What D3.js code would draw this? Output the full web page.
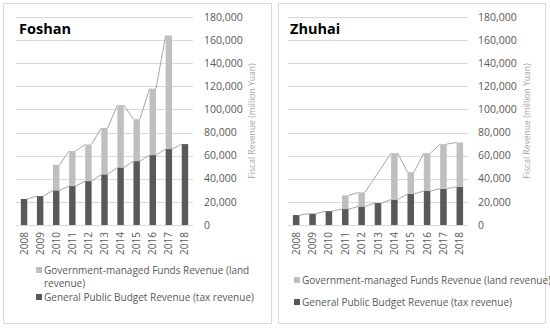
<!DOCTYPE html>
<html>
<head>
<meta charset="utf-8">
<script src="https://cdn.jsdelivr.net/npm/d3@7"></script>
<style>
  body { margin: 0; background: #fff; }
  text { font-family: "Open Sans", "Noto Sans", sans-serif; }
</style>
</head>
<body>
<div id="chart"></div>
<script>
// ---- data (million Yuan) ----
var years = ['2008','2009','2010','2011','2012','2013','2014','2015','2016','2017','2018'];
var foshanTax  = [22500, 25000, 30000, 33700, 38000, 43800, 49800, 55300, 60500, 65700, 70000];
var foshanLand = [null, null, 22000, 30300, 31700, 40200, 53900, 36300, 57500, 98300, null];
var zhuhaiTax  = [8600, 9800, 12000, 13800, 16000, 19000, 22000, 26800, 29400, 31400, 33000];
var zhuhaiLand = [null, null, null, 11800, 12200, null, 40200, 19000, 32800, 38600, 38400];
var yTicks = [0, 20000, 40000, 60000, 80000, 100000, 120000, 140000, 160000, 180000];
var legendLabels = ['Government-managed Funds Revenue (land revenue)', 'General Public Budget Revenue (tax revenue)'];
var axisTitle = 'Fiscal Revenue (million Yuan)';

var width = 550, height = 328;
var colTax = '#595959', colLand = '#bfbfbf', colLine = '#a6a6a6';

var svg = d3.select('#chart').append('svg')
  .attr('width', width).attr('height', height);

var fmt = d3.format(',');

// draws one panel; cfg holds the layout
function drawPanel(cfg) {
  var g = svg.append('g');

  // frame
  g.append('rect')
    .attr('x', cfg.box[0] + 0.5).attr('y', 3.5)
    .attr('width', cfg.box[1] - cfg.box[0]).attr('height', 320)
    .attr('fill', 'none').attr('stroke', '#d9d9d9');

  var x = d3.scaleBand().domain(years).range([cfg.x0, cfg.x1])
    .paddingInner(0.6).paddingOuter(0.3);
  var y = d3.scaleLinear().domain([0, 180000]).range([225, 17]);

  // gridlines
  g.selectAll('line.grid').data(yTicks).enter().append('line')
    .attr('class', 'grid')
    .attr('x1', cfg.x0).attr('x2', cfg.x1)
    .attr('y1', function(d) { return Math.round(y(d)) + 0.5; })
    .attr('y2', function(d) { return Math.round(y(d)) + 0.5; })
    .attr('stroke', '#d9d9d9').attr('stroke-width', 1);

  // y tick labels (right side)
  g.selectAll('text.ytick').data(yTicks).enter().append('text')
    .attr('class', 'ytick')
    .attr('x', cfg.tickX).attr('y', function(d) { return y(d); })
    .attr('dy', '0.35em')
    .attr('font-size', 10.5).attr('fill', '#595959')
    .text(fmt);

  // axis title
  g.append('text')
    .attr('transform', 'translate(' + cfg.titleX + ',121) rotate(-90)')
    .attr('text-anchor', 'middle').attr('dy', '0.35em')
    .attr('font-size', 8.6).attr('fill', '#a6a6a6')
    .text(axisTitle);

  var rows = years.map(function(yr, i) {
    return { year: yr, tax: cfg.tax[i], land: cfg.land[i] };
  });

  // series lines between bars
  var bw = x.bandwidth();
  function seriesPath(pts) {
    var segs = [];
    for (var i = 0; i < pts.length - 1; i++) {
      segs.push('M' + (x(pts[i].year) + bw) + ',' + y(pts[i].v) +
                'L' + x(pts[i + 1].year) + ',' + y(pts[i + 1].v));
    }
    return segs.join('');
  }
  var taxPts = rows.map(function(d) { return { year: d.year, v: d.tax }; });
  var landPts = rows.filter(function(d) { return d.land != null; })
    .map(function(d) { return { year: d.year, v: d.tax + d.land }; });

  g.append('path').attr('d', seriesPath(taxPts))
    .attr('fill', 'none').attr('stroke', colLine).attr('stroke-width', 1);
  g.append('path').attr('d', seriesPath(landPts))
    .attr('fill', 'none').attr('stroke', colLine).attr('stroke-width', 1);

  // bars
  g.selectAll('rect.tax').data(rows).enter().append('rect')
    .attr('class', 'tax')
    .attr('x', function(d) { return x(d.year); })
    .attr('width', bw)
    .attr('y', function(d) { return y(d.tax); })
    .attr('height', function(d) { return y(0) - y(d.tax); })
    .attr('fill', colTax);

  g.selectAll('rect.land').data(rows.filter(function(d) { return d.land != null; }))
    .enter().append('rect')
    .attr('class', 'land')
    .attr('x', function(d) { return x(d.year); })
    .attr('width', bw)
    .attr('y', function(d) { return y(d.tax + d.land); })
    .attr('height', function(d) { return y(d.tax) - y(d.tax + d.land); })
    .attr('fill', colLand);

  // year labels, rotated
  g.selectAll('text.xtick').data(years).enter().append('text')
    .attr('class', 'xtick')
    .attr('transform', function(d) {
      return 'translate(' + (x(d) + bw / 2) + ',232) rotate(-90)';
    })
    .attr('text-anchor', 'end').attr('dy', '0.35em')
    .attr('font-size', 10).attr('fill', '#595959')
    .text(function(d) { return d; });

  // city title
  g.append('text')
    .attr('x', cfg.nameX).attr('y', 34)
    .attr('font-size', 14.5).attr('font-weight', 'bold').attr('fill', '#000')
    .text(cfg.name);

  // legend
  var cols = [colLand, colTax];
  cfg.legend.forEach(function(item, k) {
    g.append('rect')
      .attr('x', cfg.legX).attr('y', item.y - 3)
      .attr('width', 6).attr('height', 6)
      .attr('fill', cols[k]);
    item.lines.forEach(function(t, j) {
      g.append('text')
        .attr('x', cfg.legX + 8).attr('y', item.y + j * 13.6)
        .attr('dy', '0.35em')
        .attr('font-size', 10).attr('fill', '#595959')
        .text(t);
    });
  });
}

drawPanel({
  name: 'Foshan', tax: foshanTax, land: foshanLand,
  box: [3, 271], x0: 16, x1: 193, tickX: 204, titleX: 252, nameX: 19,
  legX: 36, legend: [
    { y: 270, lines: ['Government-managed Funds Revenue (land', 'revenue)'] },
    { y: 297, lines: [legendLabels[1]] }
  ]
});

drawPanel({
  name: 'Zhuhai', tax: zhuhaiTax, land: zhuhaiLand,
  box: [278, 545], x0: 288, x1: 468, tickX: 478, titleX: 527, nameX: 290,
  legX: 294, legend: [
    { y: 280, lines: [legendLabels[0]] },
    { y: 302, lines: [legendLabels[1]] }
  ]
});
</script>
</body>
</html>
